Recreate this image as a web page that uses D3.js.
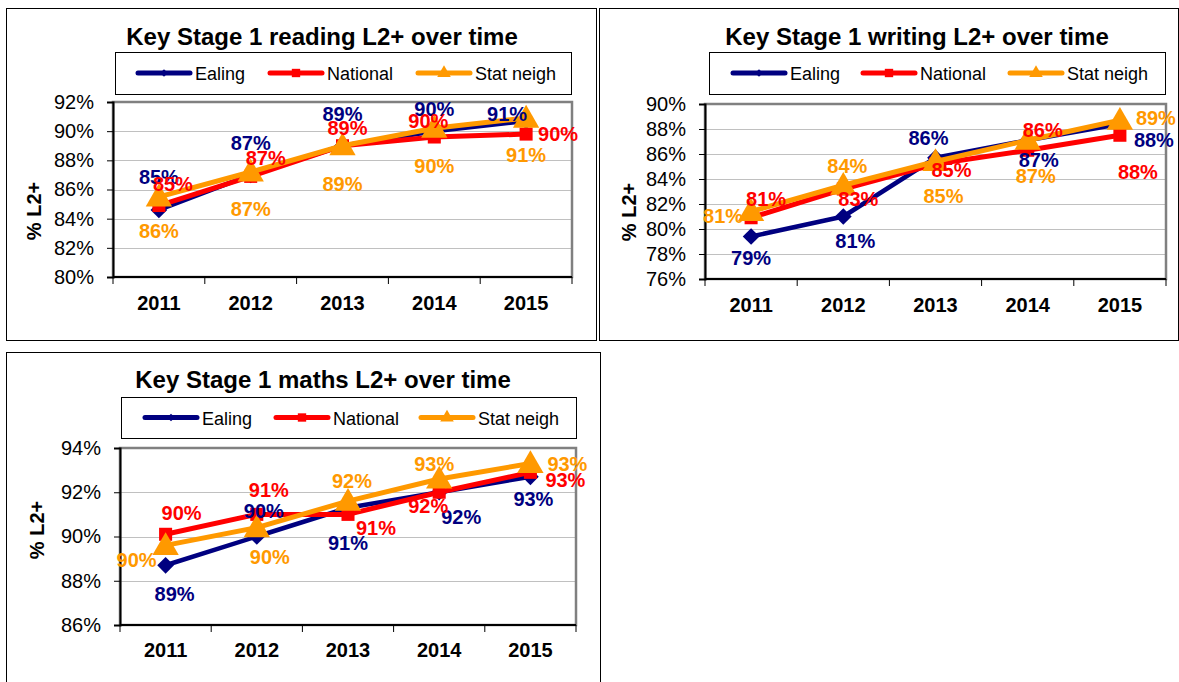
<!DOCTYPE html>
<meta charset="utf-8">
<style>
body { margin: 0; background: #fff; }
svg { font-family: Arial, "Liberation Sans", sans-serif; }
.frame { fill: #fff; stroke: #000; stroke-width: 1px; }
.grid line { stroke: #c0c0c0; stroke-width: 1px; }
.plotbox { fill: none; stroke: #808080; stroke-width: 2.5px; }
.axis path, .axis line { stroke: #000; }
.ytick text { font-size: 20px; }
.xtick text { font-size: 20px; font-weight: bold; }
.title { font-size: 24px; font-weight: bold; }
.ytitle { font-size: 20px; font-weight: bold; }
.legend text { font-size: 18px; }
.lbl { font-size: 20px; font-weight: bold; }
</style>
<svg width="1179" height="682"></svg>
<script src="https://d3js.org/d3.v7.min.js"></script>
<script>

var years = ["2011", "2012", "2013", "2014", "2015"];
var series = ["Ealing", "National", "Stat neigh"];

// reading
var readingEaling   = [84.6, 87.0, 89.0, 90.0, 90.7];
var readingNational = [84.9, 86.9, 89.0, 89.6, 89.8];
var readingStat     = [85.5, 87.2, 89.0, 90.2, 90.9];
var readingTicks = [80, 82, 84, 86, 88, 90, 92];

// writing
var writingEaling   = [79.4, 81.0, 85.7, 87.1, 88.4];
var writingNational = [80.9, 83.2, 85.2, 86.3, 87.5];
var writingStat     = [81.4, 83.5, 85.4, 87.1, 88.7];
var writingTicks = [76, 78, 80, 82, 84, 86, 88, 90];

// maths
var mathsEaling   = [88.7, 90.0, 91.3, 92.0, 92.7];
var mathsNational = [90.1, 91.0, 91.0, 92.0, 92.9];
var mathsStat     = [89.6, 90.4, 91.6, 92.6, 93.3];
var mathsTicks = [86, 88, 90, 92, 94];

var colors = ["#000080", "#ff0000", "#ff9900"];
var lineW = [4.5, 5, 5];

// label nudges (dx, dy) per series per year, Excel put them by hand
var readingNudge = [
  [[0,-33],[0,-32],[0,-32],[0,-22],[-19,-7]],
  [[14,-22],[15,-18],[5,-18],[-6,-16],[32,0]],
  [[0,34],[0,37],[0,38],[0,38],[0,37]]
];
var writingNudge = [
  [[0,21],[12,24],[-7,-20],[11,20],[34,16]],
  [[15,-19],[15,10],[16,6],[15,-20],[18,37]],
  [[-28,4],[4,-19],[8,34],[8,36],[36,-2]]
];
var mathsNudge = [
  [[9,29],[7,-26],[0,35],[22,25],[3,22]],
  [[16,-21],[12,-24],[28,14],[-11,14],[35,8]],
  [[-29,15],[13,29],[4,-20],[-5,-15],[37,1]]
];

var svg = d3.select("svg");

// Excel style diamond, wider than d3's
var diamond = {
  draw: function(ctx, size) {
    var r = Math.sqrt(size / 2);
    ctx.moveTo(0, -r); ctx.lineTo(r, 0); ctx.lineTo(0, r); ctx.lineTo(-r, 0); ctx.closePath();
  }
};
var symbols = [diamond, d3.symbolSquare, d3.symbolTriangle];

function drawChart(c) {
  var g = svg.append("g");

  g.append("rect").attr("class", "frame")
    .attr("x", c.frame[0] + 0.5).attr("y", c.frame[1] + 0.5)
    .attr("width", c.frame[2] - c.frame[0]).attr("height", c.frame[3] - c.frame[1]);

  g.append("text").attr("class", "title")
    .attr("x", c.titleX).attr("y", c.titleY)
    .attr("text-anchor", "middle").text(c.title);

  var x = d3.scaleBand().domain(years).range([c.plot[0], c.plot[2]]);
  var y = d3.scaleLinear().domain(d3.extent(c.ticks)).range([c.plot[3], c.plot[1]]);

  // grid
  g.append("g").attr("class", "grid").selectAll("line")
    .data(c.ticks.slice(1, -1)).enter().append("line")
    .attr("x1", c.plot[0]).attr("x2", c.plot[2])
    .attr("y1", function(d) { return Math.round(y(d)) + 0.5; })
    .attr("y2", function(d) { return Math.round(y(d)) + 0.5; });

  g.append("rect").attr("class", "plotbox")
    .attr("x", c.plot[0]).attr("y", c.plot[1])
    .attr("width", c.plot[2] - c.plot[0]).attr("height", c.plot[3] - c.plot[1]);

  // y axis
  var ya = g.append("g").attr("class", "axis ytick")
    .attr("transform", "translate(" + c.plot[0] + ",0)")
    .call(d3.axisLeft(y).tickValues(c.ticks).tickSize(6).tickPadding(13)
      .tickFormat(function(d) { return d + "%"; }));
  ya.selectAll("text").attr("fill", "#000");
  ya.select(".domain").attr("stroke-width", 2);

  // x axis: ticks on category boundaries
  var xa = g.append("g").attr("class", "axis xtick")
    .attr("transform", "translate(0," + c.plot[3] + ")");
  xa.append("line").attr("x1", c.plot[0]).attr("x2", c.plot[2])
    .attr("stroke", "#000").attr("stroke-width", 2);
  xa.selectAll(".tk").data(d3.range(years.length + 1)).enter().append("line")
    .attr("x1", function(i) { return c.plot[0] + i * x.bandwidth(); })
    .attr("x2", function(i) { return c.plot[0] + i * x.bandwidth(); })
    .attr("y1", 0).attr("y2", 7).attr("stroke", "#000");
  xa.selectAll("text").data(years).enter().append("text")
    .attr("x", function(d) { return x(d) + x.bandwidth() / 2; })
    .attr("y", c.xLabelDy).attr("text-anchor", "middle").text(function(d) { return d; });

  g.append("text").attr("class", "ytitle")
    .attr("transform", "translate(" + c.yTitleX + "," + c.yTitleY + ") rotate(-90)")
    .attr("text-anchor", "middle").text("% L2+");

  var cx = function(d, i) { return x(years[i]) + x.bandwidth() / 2; };
  var line = d3.line().x(function(d, i) { return cx(d, i); }).y(function(d) { return y(d); });

  c.data.forEach(function(vals, s) {
    g.append("path").datum(vals)
      .attr("fill", "none").attr("stroke", colors[s])
      .attr("stroke-width", lineW[s]).attr("stroke-linejoin", "round")
      .attr("d", line);
    var size = [140, 170, 300][s];
    g.selectAll(".m" + s).data(vals).enter().append("path")
      .attr("fill", colors[s])
      .attr("transform", function(d, i) {
        return "translate(" + cx(d, i) + "," + (y(d) + (s == 2 ? 2 : 0)) + ")";
      })
      .attr("d", d3.symbol().type(symbols[s]).size(size));
  });

  c.data.forEach(function(vals, s) {
    g.selectAll(".l" + s).data(vals).enter().append("text")
      .attr("class", "lbl").attr("fill", colors[s])
      .attr("text-anchor", "middle").attr("dominant-baseline", "central")
      .attr("x", function(d, i) { return cx(d, i) + c.nudge[s][i][0]; })
      .attr("y", function(d, i) { return y(d) + c.nudge[s][i][1]; })
      .text(function(d) { return Math.round(d) + "%"; });
  });

  // legend
  var lg = g.append("g").attr("class", "legend");
  var L = c.legend;
  lg.append("rect").attr("x", L[0] + 0.5).attr("y", L[1] + 0.5)
    .attr("width", L[2] - L[0]).attr("height", L[3] - L[1])
    .attr("fill", "#fff").attr("stroke", "#000");
  var my = (L[1] + L[3]) / 2;
  series.forEach(function(name, s) {
    var lx = L[0] + c.legendOff[s];
    lg.append("line").attr("x1", lx).attr("x2", lx + 52)
      .attr("y1", my).attr("y2", my)
      .attr("stroke", colors[s]).attr("stroke-width", 5).attr("stroke-linecap", "round");
    lg.append("path").attr("fill", colors[s])
      .attr("transform", "translate(" + (lx + 26) + "," + my + ")")
      .attr("d", d3.symbol().type(symbols[s]).size([30, 70, 80][s]));
    lg.append("text").attr("x", lx + 57).attr("y", my + 1)
      .attr("dominant-baseline", "central").text(name);
  });
}

drawChart({
  frame: [6, 8, 596, 340], plot: [113, 102, 572, 277],
  title: "Key Stage 1 reading L2+ over time", titleX: 322, titleY: 45,
  legend: [115, 52, 571, 94], legendOff: [23, 155, 303],
  ticks: readingTicks, xLabelDy: 33, yTitleX: 41, yTitleY: 211,
  data: [readingEaling, readingNational, readingStat], nudge: readingNudge
});

drawChart({
  frame: [599, 8, 1178, 340], plot: [705, 104, 1166, 279],
  title: "Key Stage 1 writing L2+ over time", titleX: 917, titleY: 45,
  legend: [709, 52, 1165, 94], legendOff: [24, 154, 301],
  ticks: writingTicks, xLabelDy: 33, yTitleX: 636, yTitleY: 212,
  data: [writingEaling, writingNational, writingStat], nudge: writingNudge
});

drawChart({
  frame: [6, 352, 600, 700], plot: [120, 448, 576, 625],
  title: "Key Stage 1 maths L2+ over time", titleX: 323, titleY: 388,
  legend: [121, 397, 576, 438], legendOff: [24, 155, 300],
  ticks: mathsTicks, xLabelDy: 32, yTitleX: 44, yTitleY: 530,
  data: [mathsEaling, mathsNational, mathsStat], nudge: mathsNudge
});

</script>
